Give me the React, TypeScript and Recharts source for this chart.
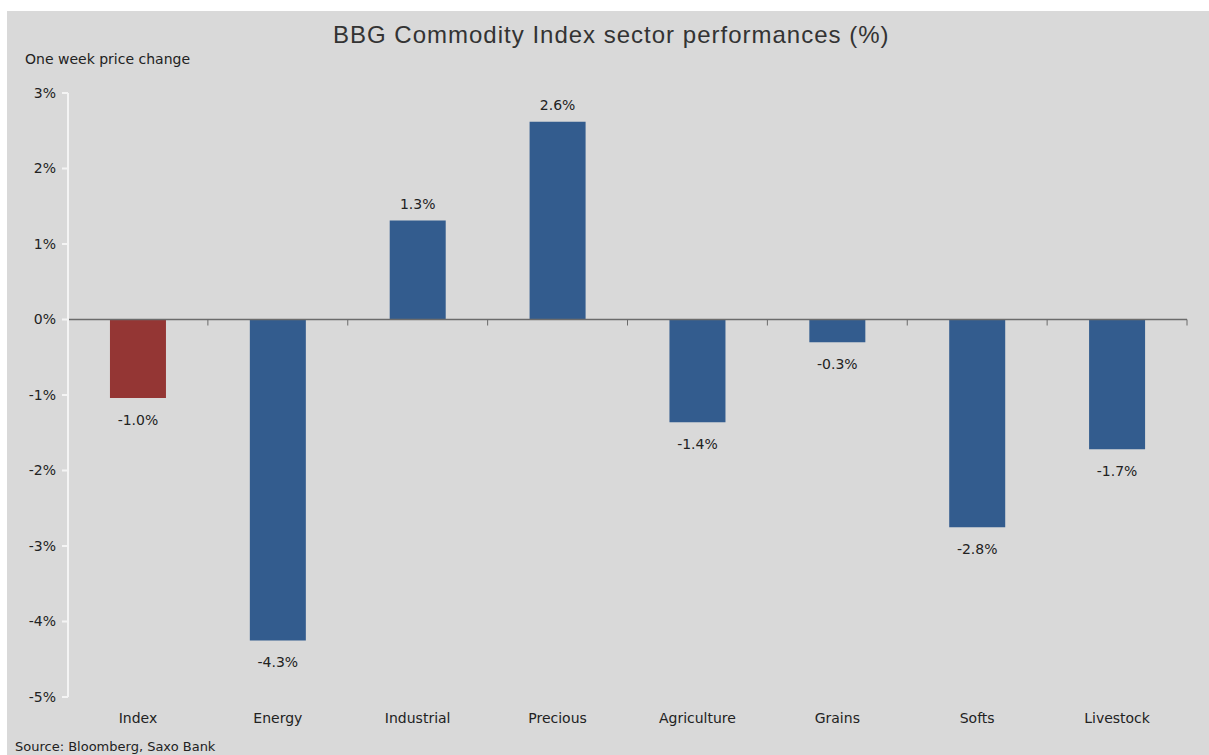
import { BarChart, Bar, XAxis, YAxis, Cell, LabelList, ReferenceLine } from 'recharts';

const sectors = ['Index', 'Energy', 'Industrial', 'Precious', 'Agriculture', 'Grains', 'Softs', 'Livestock'];
const changes = [-1.04, -4.25, 1.31, 2.62, -1.36, -0.3, -2.75, -1.72];
const valueLabels = ['-1.0%', '-4.3%', '1.3%', '2.6%', '-1.4%', '-0.3%', '-2.8%', '-1.7%'];
const yTicks = [-5, -4, -3, -2, -1, 0, 1, 2, 3];

const data = sectors.map((name, i) => ({ name, value: changes[i], label: valueLabels[i] }));

const FONT = '"DejaVu Sans", Verdana, sans-serif';

// zero line with small ticks between categories
const ZeroLine = (props: any) => {
  const { x1, x2, y1 } = props;
  const n = sectors.length;
  const step = (x2 - x1) / n;
  const marks = [];
  for (let i = 0; i <= n; i++) {
    const x = x1 + step * i;
    marks.push(<line key={i} x1={x} x2={x} y1={y1} y2={y1 + 6} stroke="#6b6b6b" strokeWidth={1} />);
  }
  return (
    <g>
      <line x1={x1} x2={x2} y1={y1} y2={y1} stroke="#6b6b6b" strokeWidth={1.5} />
      {marks}
    </g>
  );
};

const BarLabel = (props: any) => {
  const { x, y, width, height, index } = props;
  const v = changes[index];
  const top = Math.min(y, y + height);
  const bottom = Math.max(y, y + height);
  const ty = v >= 0 ? top - 12 : bottom + 27;
  return (
    <text x={x + width / 2} y={ty} textAnchor="middle" fontFamily={FONT} fontSize={14} fill="#222">
      {valueLabels[index]}
    </text>
  );
};

export default function App() {
  return (
    <div style={{ position: 'absolute', left: 0, top: 0, width: 1209, height: 755, background: '#fff', overflow: 'hidden' }}>
      <div style={{ position: 'absolute', left: 7, top: 11, width: 1202, height: 744, background: '#d9d9d9' }} />
      <div style={{ position: 'absolute', left: 333, top: 21, whiteSpace: 'nowrap', fontFamily: '"Liberation Sans", Arial, sans-serif', fontSize: 24, letterSpacing: 1, color: '#333' }}>
        BBG Commodity Index sector performances (%)
      </div>
      <div style={{ position: 'absolute', left: 25, top: 51, fontFamily: FONT, fontSize: 14, color: '#222' }}>
        One week price change
      </div>
      <div style={{ position: 'absolute', left: 15, top: 739, fontFamily: FONT, fontSize: 13, color: '#222' }}>
        Source: Bloomberg, Saxo Bank
      </div>
      <div style={{ position: 'absolute', left: 0, top: 0 }}>
        <BarChart width={1209} height={755} data={data} margin={{ top: 93, right: 22, bottom: 28, left: 0 }} barCategoryGap="30%">
          <XAxis
            dataKey="name"
            axisLine={false}
            tickLine={false}
            interval={0}
            tick={{ fontFamily: FONT, fontSize: 14, fill: '#222' }}
            height={30}
            tickMargin={10}
          />
          <YAxis
            domain={[-5, 3]}
            ticks={yTicks}
            width={68}
            interval={0}
            axisLine={{ stroke: '#f4f4f4', strokeWidth: 2 }}
            tickLine={{ stroke: '#f4f4f4', strokeWidth: 2 }}
            tickSize={6}
            tickFormatter={(v: number) => `${v}%`}
            tick={{ fontFamily: FONT, fontSize: 14, fill: '#222', dx: -4 }}
          />
          <Bar dataKey="value" isAnimationActive={false}>
            {data.map((d, i) => (
              <Cell key={d.name} fill={i === 0 ? '#943634' : '#335c8e'} />
            ))}
            <LabelList dataKey="label" content={BarLabel} />
          </Bar>
          <ReferenceLine y={0} shape={ZeroLine} />
        </BarChart>
      </div>
    </div>
  );
}
